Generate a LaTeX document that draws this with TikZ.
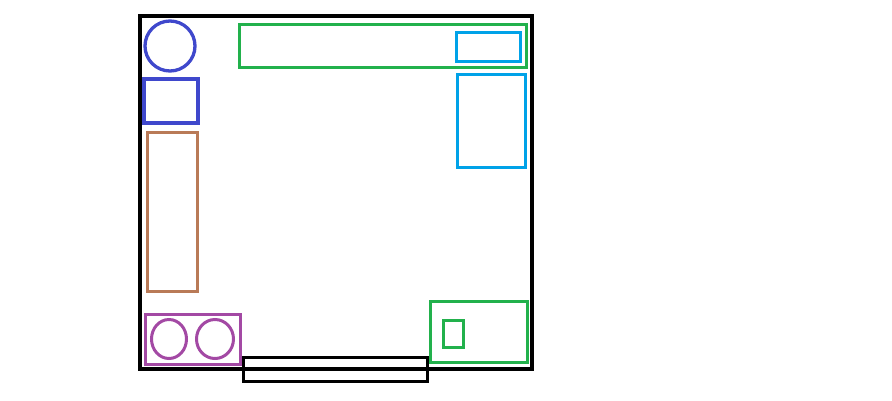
\documentclass[tikz,border=0pt]{standalone}
\usepackage{xcolor}
\usepackage{tikz}
\usetikzlibrary{shapes,positioning}

\definecolor{paintblue}{HTML}{3F48CC}
\definecolor{paintgreen}{HTML}{22B14C}
\definecolor{paintcyan}{HTML}{00A2E8}
\definecolor{paintbrown}{HTML}{B97A57}
\definecolor{paintpurple}{HTML}{A349A4}

\begin{document}
\begin{tikzpicture}[x=1pt, y=-1pt, line width=3pt,
    part/.style={draw, rectangle, inner sep=0pt, outer sep=0pt},
    knob/.style={draw, ellipse, inner sep=0pt, outer sep=0pt}]
        \useasboundingbox (0,0) rectangle (892,400);
        % board outline
        \node [part, draw=black, line width=3.8pt, minimum width=392pt, minimum height=353pt] (Board) at (336,192.5) {};
        % left column
        \node [knob, draw=paintblue, line width=3.3pt, minimum width=50pt, minimum height=50pt] (Dial) at (170,46) {};
        \node [part, draw=paintblue, line width=3.3pt, minimum width=54pt, minimum height=44pt] (Pad) at (171,101) {};
        \node [part, draw=paintbrown, minimum width=50pt, minimum height=159pt] (Strip) at (172,211.5) {};
        % top bar
        \node [part, draw=paintgreen, minimum width=287pt, minimum height=43pt] (TopBar) at (382.5,45.5) {};
        \node [part, draw=paintcyan, minimum width=64pt, minimum height=29pt] (Slot) at (488,46.5) {};
        \node [part, draw=paintcyan, minimum width=68pt, minimum height=93pt] (Panel) at (491,120.5) {};
        % bottom
        \node [part, draw=paintpurple, minimum width=95pt, minimum height=50pt] (Pair) at (192.5,339) {};
        \node [knob, draw=paintpurple, minimum width=35pt, minimum height=39pt] (KnobA) at (169,339) {};
        \node [knob, draw=paintpurple, minimum width=37pt, minimum height=39pt] (KnobB) at (215,339) {};
        \node [part, draw=black, minimum width=184pt, minimum height=24pt] (Edge) at (335,369) {};
        \node [part, draw=paintgreen, minimum width=97pt, minimum height=61pt] (Socket) at (478.5,331.5) {};
        \node [part, draw=paintgreen, minimum width=20pt, minimum height=27pt] (Pin) at (453,333.5) {};
    \end{tikzpicture}
\end{document}
